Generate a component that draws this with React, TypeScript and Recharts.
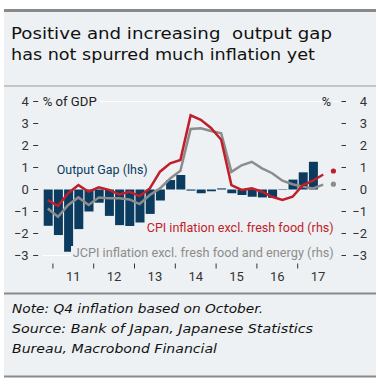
import React from 'react';
import { ComposedChart, Bar, Line, XAxis, YAxis, CartesianGrid } from 'recharts';

// quarters 2010Q4 .. 2017Q4
const quarters = [
  '2010Q4',
  '2011Q1', '2011Q2', '2011Q3', '2011Q4',
  '2012Q1', '2012Q2', '2012Q3', '2012Q4',
  '2013Q1', '2013Q2', '2013Q3', '2013Q4',
  '2014Q1', '2014Q2', '2014Q3', '2014Q4',
  '2015Q1', '2015Q2', '2015Q3', '2015Q4',
  '2016Q1', '2016Q2', '2016Q3', '2016Q4',
  '2017Q1', '2017Q2', '2017Q3', '2017Q4',
];

// % of GDP (lhs)
const outputGap = [
  -1.65, -2.07, -2.83, -1.8, -1.0, -0.6, -1.2, -1.62, -1.66, -1.5, -1.11, -0.5, 0.43, 0.66,
  -0.05, -0.17, -0.08, 0.05, -0.17, -0.25, -0.33, -0.36, -0.38, -0.02, 0.45, 0.78, 1.26,
];

// % y/y (rhs)
const cpiExFresh = [
  -0.48, -0.75, -0.17, 0.2, -0.1, 0.1, -0.02, -0.22, -0.1, -0.3, 0.05, 0.81, 1.19, 1.34,
  3.37, 3.17, 2.8, 2.26, 0.2, -0.02, 0.05, -0.1, -0.33, -0.48, -0.33, 0.2, 0.4, 0.68,
];
const cpiExFreshEnergy = [
  -0.86, -1.24, -0.7, -0.36, -0.7, -0.36, -0.4, -0.4, -0.45, -0.66, -0.25, 0.05, 0.5, 0.85,
  2.75, 2.78, 2.66, 2.55, 0.8, 1.1, 1.26, 0.96, 0.74, 0.4, 0.24, 0.13, 0.05, 0.22,
];

// Q4 (October) readings
const octCpiExFresh = 0.84;
const octCpiExFreshEnergy = 0.24;

const yTicks = [-3, -2, -1, 0, 1, 2, 3, 4];
const yearTicks = [1, 5, 9, 13, 17, 21, 25];
const yearLabels = ['11', '12', '13', '14', '15', '16', '17'];

const NAVY = '#0b3b5f';
const RED = '#bf1e2a';
const GREY = '#8c8c8c';
const PANEL = '#eef1f3';
const FONT = 'Roboto, sans-serif';
const WIDE = '"DejaVu Sans", sans-serif';

const PLOT_LEFT = 42.7;
const PLOT_RIGHT = 338.5;
const HALF_YEAR = ((PLOT_RIGHT - PLOT_LEFT) / quarters.length) * 2;

const data = quarters.map((q, i) => ({
  x: i + 0.5,
  q,
  gap: i < outputGap.length ? outputGap[i] : null,
  cpi: i < cpiExFresh.length ? cpiExFresh[i] : null,
  core: i < cpiExFreshEnergy.length ? cpiExFreshEnergy[i] : null,
  cpiOct: i === quarters.length - 1 ? octCpiExFresh : null,
  coreOct: i === quarters.length - 1 ? octCpiExFreshEnergy : null,
}));

const fmt = (v: number) => (v < 0 ? '\u2212' + Math.abs(v) : String(v));

const LeftTick = (props: any) => {
  const { x, y, payload } = props;
  return (
    <g>
      <line x1={x - 9.5} x2={x - 4.5} y1={y} y2={y} stroke="#333" strokeWidth={1} />
      <text x={x - 14} y={y} dy="0.35em" textAnchor="end" fontSize={13} fill="#333" fontFamily={FONT}>
        {fmt(payload.value)}
      </text>
    </g>
  );
};

const RightTick = (props: any) => {
  const { x, y, payload } = props;
  return (
    <g>
      <line x1={x + 3} x2={x + 7.5} y1={y} y2={y} stroke="#333" strokeWidth={1} />
      <text x={x + 28.5} y={y} dy="0.35em" textAnchor="end" fontSize={13} fill="#333" fontFamily={FONT}>
        {fmt(payload.value)}
      </text>
    </g>
  );
};

const YearTick = (props: any) => {
  const { x, y, index } = props;
  return (
    <g>
      <line x1={x} x2={x} y1={y + 8} y2={y + 13} stroke="#333" strokeWidth={1} />
      <text x={x + HALF_YEAR} y={y + 20.5} dy="0.35em" textAnchor="middle" fontSize={13} fill="#333" fontFamily={FONT}>
        {yearLabels[index]}
      </text>
    </g>
  );
};

export default function App() {
  return (
    <div style={{ position: 'absolute', left: 0, top: 0, width: 386, height: 389, background: '#fff' }}>
      <svg width={386} height={389} style={{ position: 'absolute', left: 0, top: 0 }}>
        <rect x={4} y={10} width={372} height={367} fill={PANEL} />
        <rect x={4} y={9} width={372} height={3} fill="#8a8a8a" />
        <rect x={4} y={85.5} width={372} height={1} fill="#9a9a9a" />
        <rect x={4} y={292.5} width={372} height={2} fill="#8a8a8a" />
        <rect x={4} y={375.5} width={372} height={2} fill="#8a8a8a" />
        <g fontFamily={WIDE} fill="#111" fontSize={15} lengthAdjust="spacingAndGlyphs">
          <text x={11} y={38.5} textLength={321} lengthAdjust="spacingAndGlyphs">
            {'Positive and increasing\u00a0 output gap'}
          </text>
          <text x={11} y={60} textLength={304} lengthAdjust="spacingAndGlyphs">
            has not spurred much inflation yet
          </text>
        </g>
        <g fontFamily={WIDE} fontStyle="italic" fill="#111" fontSize={12.5}>
          <text x={12} y={313} textLength={251} lengthAdjust="spacingAndGlyphs">Note: Q4 inflation based on October.</text>
          <text x={12} y={333} textLength={301} lengthAdjust="spacingAndGlyphs">Source: Bank of Japan, Japanese Statistics</text>
          <text x={12} y={353} textLength={205} lengthAdjust="spacingAndGlyphs">Bureau, Macrobond Financial</text>
        </g>
      </svg>
      <div style={{ position: 'absolute', left: 0, top: 0 }}>
        <ComposedChart
          width={386}
          height={389}
          data={data}
          margin={{ top: 101.5, right: 0, bottom: 103.5, left: 0 }}
        >
          <CartesianGrid horizontal vertical={false} stroke="#ffffff" strokeWidth={1} />
          <XAxis
            dataKey="x"
            type="number"
            domain={[0, quarters.length]}
            ticks={yearTicks}
            tick={<YearTick />}
            tickLine={false}
            axisLine={false}
            tickSize={0}
            tickMargin={0}
            height={30}
            interval={0}
          />
          <YAxis
            yAxisId="lhs"
            domain={[-3, 4]}
            ticks={yTicks}
            tick={<LeftTick />}
            tickLine={false}
            axisLine={false}
            tickSize={0}
            tickMargin={0}
            width={PLOT_LEFT}
            interval={0}
          />
          <YAxis
            yAxisId="rhs"
            orientation="right"
            domain={[-3, 4]}
            ticks={yTicks}
            tick={<RightTick />}
            tickLine={false}
            axisLine={false}
            tickSize={0}
            tickMargin={0}
            width={386 - PLOT_RIGHT}
            interval={0}
          />
          <Bar yAxisId="lhs" dataKey="gap" fill={NAVY} barSize={9} isAnimationActive={false} />
          <Line yAxisId="rhs" dataKey="core" stroke={GREY} strokeWidth={2.5} dot={false} type="linear" isAnimationActive={false} />
          <Line yAxisId="rhs" dataKey="cpi" stroke={RED} strokeWidth={2.5} dot={false} type="linear" isAnimationActive={false} />
          <Line yAxisId="rhs" dataKey="cpiOct" stroke="none" dot={{ r: 2.6, fill: RED, stroke: 'none' }} isAnimationActive={false} />
          <Line yAxisId="rhs" dataKey="coreOct" stroke="none" dot={{ r: 2.6, fill: GREY, stroke: 'none' }} isAnimationActive={false} />
        </ComposedChart>
      </div>
      <svg width={386} height={389} style={{ position: 'absolute', left: 0, top: 0, pointerEvents: 'none' }}>
        <g fill={PANEL}>
          <rect x={42} y={95} width={58} height={13} />
          <rect x={322} y={95} width={11} height={13} />
          <rect x={55} y={162} width={95} height={14} />
          <rect x={145} y={221} width={191} height={14} />
          <rect x={71} y={246} width={265} height={13} />
        </g>
        <g fontFamily={FONT} fontSize={12.7}>
          <text x={42.7} y={106} fill="#222" textLength={54} lengthAdjust="spacingAndGlyphs">% of GDP</text>
          <text x={331} y={106} fill="#222" textAnchor="end">%</text>
          <text x={56.7} y={173.5} fill={NAVY} textLength={91} lengthAdjust="spacingAndGlyphs">Output Gap (lhs)</text>
          <text x={146.7} y={231.8} fill={RED} textLength={187} lengthAdjust="spacingAndGlyphs">CPI inflation excl. fresh food (rhs)</text>
          <text x={72.7} y={256.8} fill={GREY} textLength={261} lengthAdjust="spacingAndGlyphs">JCPI inflation excl. fresh food and energy (rhs)</text>
        </g>
      </svg>
    </div>
  );
}
